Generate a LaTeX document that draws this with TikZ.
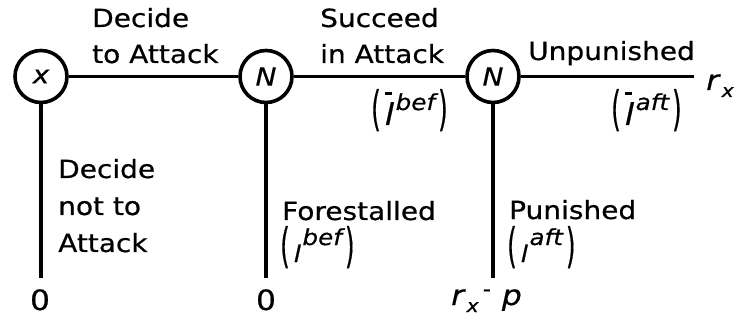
\documentclass[tikz,border=0pt]{standalone}
\usepackage{fontspec}
\setmainfont{DejaVu Sans}[FakeStretch=1.12, FakeBold=0.6]
\usepackage{graphicx}
\usetikzlibrary{shapes.geometric}

\newcommand{\pL}{\scalebox{1}[2.15]{(}}
\newcommand{\pR}{\scalebox{1}[2.15]{)}}
% #1 = base letter, #2 = raise of superscript, #3 = superscript
\newcommand{\lexpr}[3]{\fontsize{22}{22}\selectfont\pL\hspace{4pt}#1\hspace{1.5pt}\raisebox{#2}{\itshape #3}\hspace{3pt}\pR}
\newcommand{\lI}{{\fontsize{23}{23}\selectfont\itshape l}}
\newcommand{\lIbar}{{\fontsize{30}{30}\selectfont\makebox[0pt][l]{\hspace{0pt}\raisebox{30pt}{\rule{7pt}{2.6pt}}}\itshape l}}
\newcommand{\rsub}{\textit{r}\hspace{1pt}\raisebox{-7pt}{\fontsize{18}{18}\selectfont\textit{x}}}

\tikzset{
  edge/.style={line width=3.6pt},
  chance/.style={draw, line width=3.6pt, circle, minimum size=52pt, inner sep=0pt,
                 font=\fontsize{25}{25}\selectfont\itshape},
  lbl/.style={anchor=base west, inner sep=0pt, font=\fontsize{25}{36}\selectfont},
  pay/.style={inner sep=0pt, font=\fontsize{28}{28}\selectfont},
}

\begin{document}
\begin{tikzpicture}[x=1pt, y=-1pt]
\useasboundingbox (0,0) rectangle (738,320);

% decision and chance nodes
\node[chance] (x)  at (41,76.5)  {x};
\node[chance] (n1) at (266,76.5) {N};
\node[chance] (n2) at (493,76.5) {N};

% free ends
\coordinate (e)  at (694,76.5);
\coordinate (b0) at (41,278);
\coordinate (b1) at (266,278);
\coordinate (b2) at (493,278);

% connectors
\draw[edge] (x) -- (n1);
\draw[edge] (n1) -- (n2);
\draw[edge] (n2) -- (e);
\draw[edge] (x) -- (b0);
\draw[edge] (n1) -- (b1);
\draw[edge] (n2) -- (b2);

% branch labels
\node[lbl] (dta) at (92,27) {\vtop{\baselineskip=36pt \hbox{Decide}\hbox{to Attack}}};
\node[lbl] (sia) at (320,27) {\vtop{\baselineskip=36pt \hbox{Succeed}\hbox{in Attack}}};
\node[lbl] (unp) at (528,60) {Unpunished};
\node[lbl] (dna) at (58,178) {\vtop{\baselineskip=37pt \hbox{Decide}\hbox{not to}\hbox{Attack}}};
\node[lbl] (fst) at (282,220) {Forestalled};
\node[lbl] (pun) at (509,219) {Punished};

% probability labels
\node[lbl] (pbs) at (371,125) {\lexpr{\lIbar}{15pt}{bef}};
\node[lbl] (pas) at (611,125) {\lexpr{\lIbar}{15pt}{aft}};
\node[lbl] (pbf) at (280,262) {\lexpr{\lI}{17pt}{bef}};
\node[lbl] (pap) at (507,262) {\lexpr{\lI}{17pt}{aft}};

% payoffs
\node[pay, anchor=base] (z0) at (40,310) {0};
\node[pay, anchor=base] (z1) at (266,310) {0};
\node[pay, anchor=base west] (rx) at (706,90) {\rsub};
\node[pay, anchor=base west] (rp) at (451,305) {\rsub\hspace{4pt}\raisebox{9pt}{\fontsize{20}{20}\selectfont-}\hspace{11pt}\textit{p}};
\end{tikzpicture}
\end{document}
